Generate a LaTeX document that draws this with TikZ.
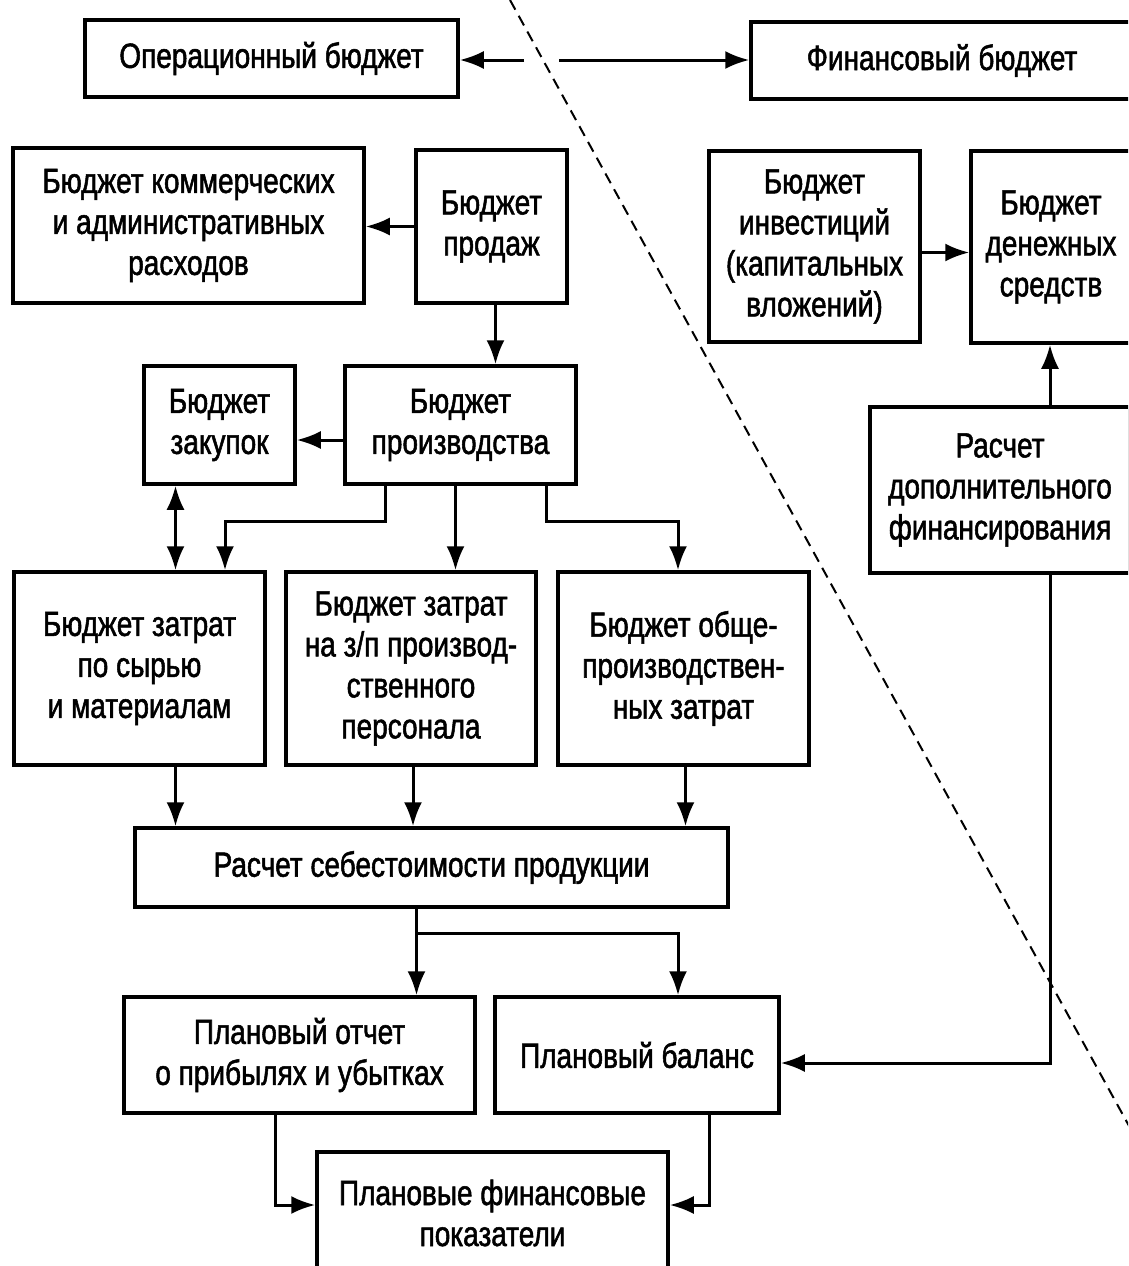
\documentclass[tikz,border=0pt]{standalone}
\usepackage{fontspec}
\setmainfont[FakeStretch=0.8, FakeBold=1.5]{Liberation Sans}
\usepackage{tikz}
\usetikzlibrary{arrows.meta}
\tikzstyle{block}=[draw, line width=3.5pt, rectangle, inner sep=0pt, align=center, font=\fontsize{35}{41}\selectfont]
\tikzstyle{arr}=[line width=3pt, -{Latex[length=24pt,width=18pt]}]
\tikzstyle{arrboth}=[line width=3pt, {Latex[length=24pt,width=18pt]}-{Latex[length=24pt,width=18pt]}]

\begin{document}
\begin{tikzpicture}[x=1pt, y=-1pt]
	\useasboundingbox (0, 0) rectangle (1128, 1266);
	\clip (0, 0) rectangle (1128, 1266);
	\begin{scope}
		% top row
		\node (op) at (271.5, 58.5)[block, minimum width=373, minimum height=77] {Операционный бюджет};
		\node (fin) at (942, 60.5)[block, minimum width=382, minimum height=77] {Финансовый бюджет};
		% operational budget
		\node (kom) at (188.5, 225.5)[block, minimum width=351, minimum height=155] {Бюджет коммерческих\\и административных\\расходов};
		\node (prod) at (491.5, 226.5)[block, minimum width=151, minimum height=153] {Бюджет\\продаж};
		\node (zak) at (219.5, 425)[block, minimum width=151, minimum height=118] {Бюджет\\закупок};
		\node (proizv) at (460.5, 425)[block, minimum width=231, minimum height=118] {Бюджет\\производства};
		\node (syr) at (139.5, 668.5)[block, minimum width=251, minimum height=193] {Бюджет затрат\\по сырью\\и материалам};
		\node (zp) at (411, 668.5)[block, minimum width=250, minimum height=193] {Бюджет затрат\\на з/п производ-\\ственного\\персонала};
		\node (obsh) at (683.5, 668.5)[block, minimum width=251, minimum height=193] {Бюджет обще-\\производствен-\\ных затрат};
		\node (seb) at (431.5, 867.5)[block, minimum width=593, minimum height=79] {Расчет себестоимости продукции};
		\node (otch) at (299.5, 1055)[block, minimum width=351, minimum height=116] {Плановый отчет\\о прибылях и убытках};
		\node (bal) at (637, 1055)[block, minimum width=284, minimum height=116] {Плановый баланс};
		\node (pok) at (492.5, 1213)[block, minimum width=351, minimum height=122] {Плановые финансовые\\показатели};
		% financial budget
		\node (inv) at (814.5, 246.5)[block, minimum width=211, minimum height=191] {Бюджет\\инвестиций\\(капитальных\\вложений)};
		\node (den) at (1051, 247)[block, minimum width=160, minimum height=192] {Бюджет\\денежных\\средств};
		\node (dop) at (1000, 490)[block, minimum width=260, minimum height=166] {Расчет\\дополнительного\\финансирования};
		\coordinate (gapl) at (524, 60);
		\coordinate (gapr) at (559, 60);
	\end{scope}
	\begin{scope}
		\draw [line width=2pt, dash pattern=on 11pt off 7pt] (510, 0) -- (1134, 1135);
		\draw [arr] (gapl) -- (gapl -| op.east);
		\draw [arr] (gapr) -- (gapr -| fin.west);
		\draw [arr] (prod.west) -- (prod.west -| kom.east);
		\draw [arr] ([xshift=4]prod.south) -- ([xshift=4]prod.south |- proizv.north);
		\draw [arr] ([yshift=-15]proizv.west) -- ([yshift=-15]proizv.west -| zak.east);
		\draw [arrboth] ([xshift=-44]zak.south) -- ([xshift=-44]zak.south |- syr.north);
		\draw [arr] ([xshift=-75]proizv.south) |- (225, 521) -- (225, 521 |- syr.north);
		\draw [arr] ([xshift=-5]proizv.south) -- ([xshift=-5]proizv.south |- zp.north);
		\draw [arr] ([xshift=86]proizv.south) |- (678, 521) -- (678, 521 |- obsh.north);
		\draw [arr] ([yshift=-6]inv.east) -- ([yshift=-6]inv.east -| den.west);
		\draw [arr] ([xshift=50]dop.north) -- ([xshift=50]dop.north |- den.south);
		\draw [arr] ([xshift=50]dop.south) |- ([yshift=-8]bal.east);
		\draw [arr] ([xshift=36]syr.south) -- ([xshift=36]syr.south |- seb.north);
		\draw [arr] ([xshift=2]zp.south) -- ([xshift=2]zp.south |- seb.north);
		\draw [arr] ([xshift=2]obsh.south) -- ([xshift=2]obsh.south |- seb.north);
		\draw [arr] ([xshift=-15]seb.south) -- ([xshift=-15]seb.south |- otch.north);
		\draw [arr] (416, 933) -| ([xshift=41]bal.north);
		\draw [arr] ([xshift=-24]otch.south) |- ([yshift=8]pok.west);
		\draw [arr] ([xshift=72]bal.south) |- ([yshift=8]pok.east);
	\end{scope}
\end{tikzpicture}
\end{document}
